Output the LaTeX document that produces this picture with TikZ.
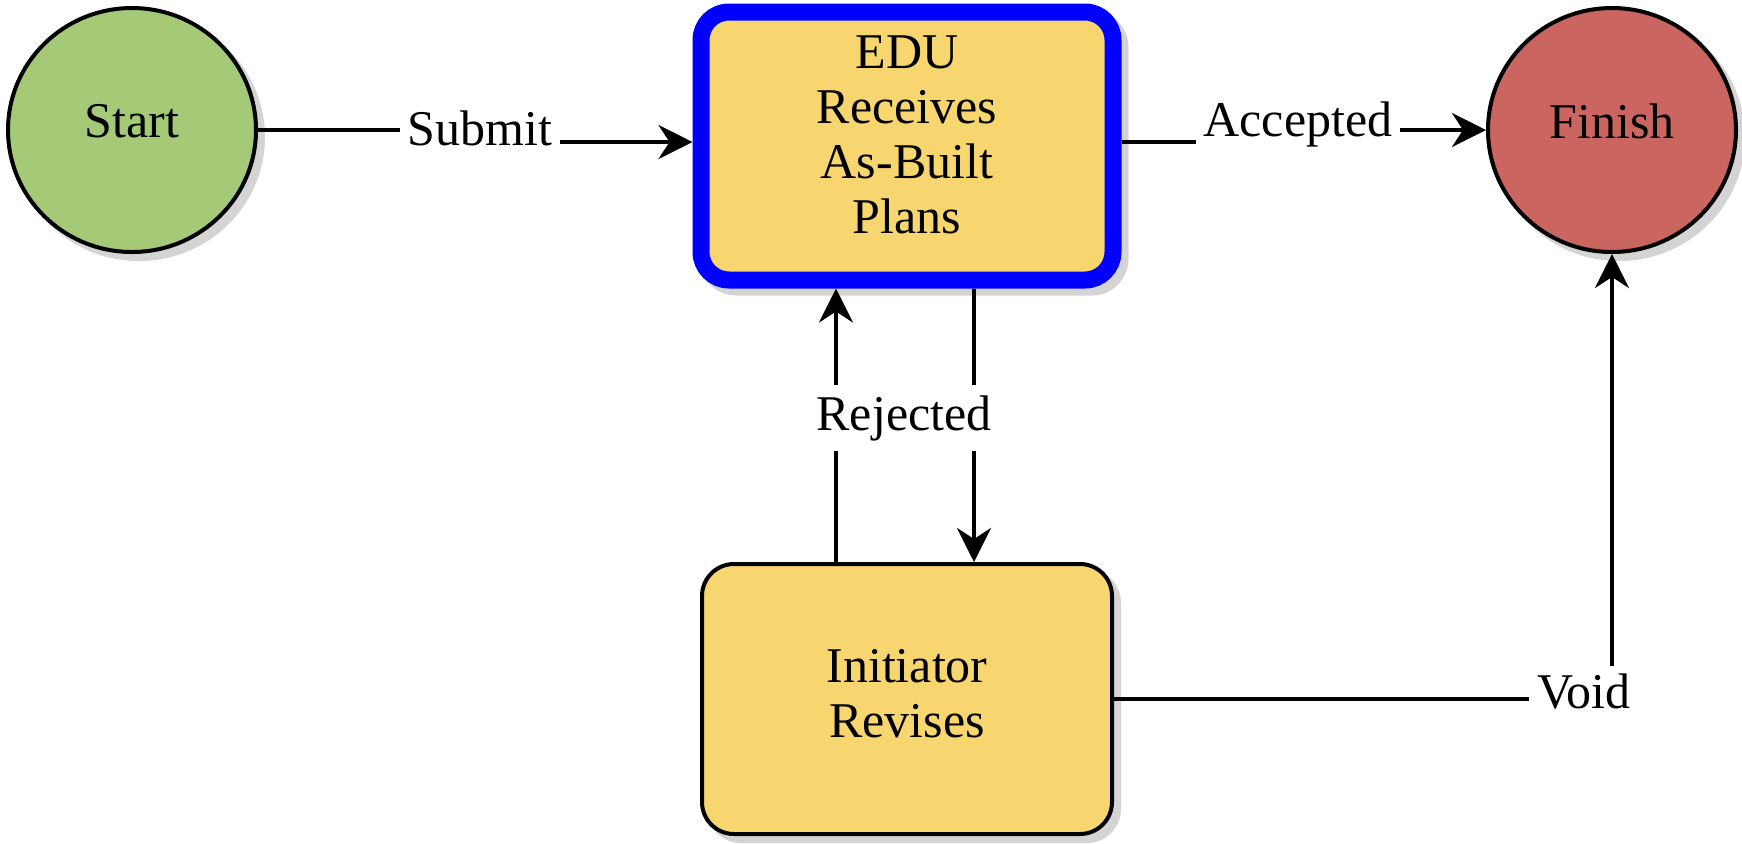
\documentclass[tikz,border=0pt]{standalone}
\usepackage{fontspec}
\setmainfont{Liberation Serif}
\usetikzlibrary{arrows.meta,shapes.geometric}
\definecolor{startgreen}{RGB}{165,202,119}
\definecolor{finishred}{RGB}{202,101,96}
\definecolor{boxyellow}{RGB}{247,214,112}
\definecolor{shade}{RGB}{212,212,212}
\definecolor{edublue}{RGB}{0,0,255}
\begin{document}
\begin{tikzpicture}[x=0.5pt,y=-0.5pt,
  font=\fontsize{25}{27.5}\selectfont,
  shadowed/.style={preaction={fill=shade,draw=shade,transform canvas={shift={(3.5pt,-3.5pt)}}}},
  terminal/.style={ellipse,draw=black,line width=2pt,minimum width=124pt,minimum height=122pt,inner sep=0pt,shadowed},
  stagebox/.style={rectangle,draw=black,line width=2pt,fill=boxyellow,inner sep=0pt,shadowed},
  arr/.style={line width=2pt,-{Stealth[length=17pt,width=17pt,inset=5.5pt]}},
  lab/.style={fill=white,inner xsep=4pt,inner ysep=4pt}]
\useasboundingbox (0,0) rectangle (1742,843);

\node[terminal,fill=startgreen] (start) at (132,130) {\raisebox{9pt}{Start}};
\node[terminal,fill=finishred] (finish) at (1612,130) {\raisebox{9pt}{Finish}};
\node[stagebox,draw=edublue,line width=8.5pt,rounded corners=14pt,minimum width=206pt,minimum height=134pt] (edu) at (907,146)
  {\raisebox{-3.2pt}[0pt][0pt]{\begin{tabular}{@{}c@{}}EDU\\Receives\\As-Built\\Plans\end{tabular}}};
\node[stagebox,rounded corners=16pt,minimum width=205pt,minimum height=135pt] (init) at (907,699)
  {\begin{tabular}{@{}c@{}}Initiator\\Revises\end{tabular}};

\coordinate (sbA) at (480,130);
\coordinate (sbB) at (480,142);
\coordinate (acA) at (1298,142);
\coordinate (acB) at (1298,130);
\coordinate (rejL) at (836,416);
\coordinate (rejR) at (974,416);

\draw[arr] (start.east) -- (sbA) -- (sbB) -- (sbB -| edu.west);
\draw[arr] (acA -| edu.east) -- (acA) -- (acB) -- (finish.west);
\draw[arr] (rejL |- init.north) -- (rejL |- edu.south);
\draw[arr] (rejR |- edu.south) -- (rejR |- init.north);
\draw[arr] (init.east) -- (init.east -| finish.south) -- (finish.south);

\node[lab] (lsub) at (480,128) {Submit};
\node[lab] (lacc) at (1298,124) {Accepted};
\node[lab,inner ysep=5pt] (lrej) at (904,418) {Rejected};
\node[lab] (lvoid) at (1584,692) {Void};
\end{tikzpicture}
\end{document}
